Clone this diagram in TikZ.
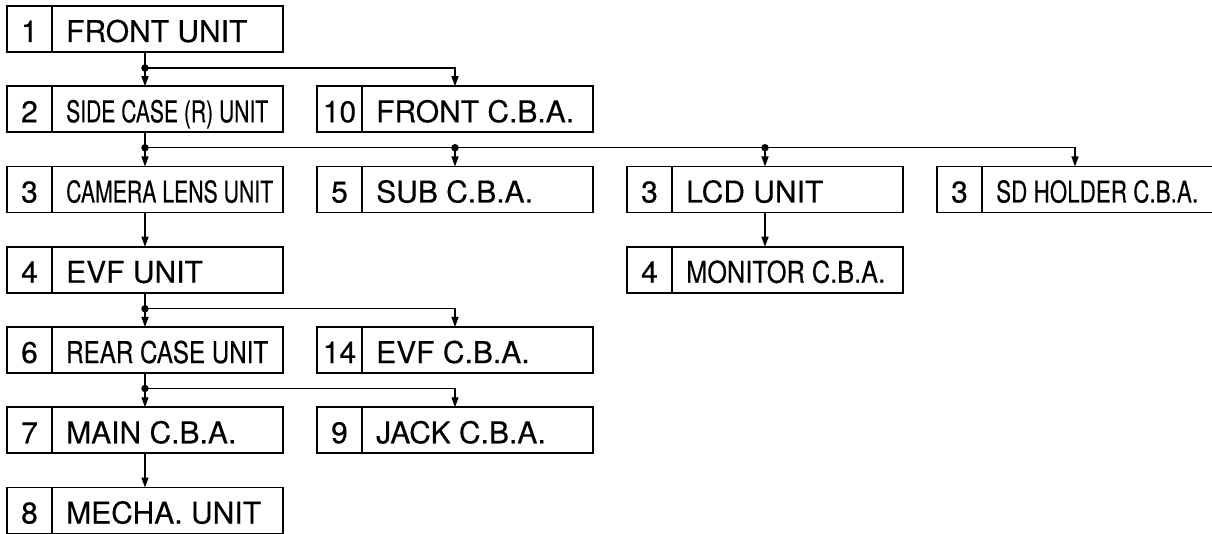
\documentclass[tikz,border=0pt]{standalone}
\usepackage{fontspec}
\setmainfont{TeX Gyre Heros}
\newfontfamily\diafont{TeX Gyre Heros}[FakeBold=0.3]
\usepackage{graphicx}
\usetikzlibrary{arrows.meta}
\tikzset{
 box/.style={draw, line width=1.7pt, minimum width=276pt, minimum height=46pt, inner sep=0pt, outer sep=0pt, anchor=north west},
 num/.style={inner sep=0pt, anchor=base, font=\diafont\fontsize{30}{31}\selectfont},
 lbl/.style={inner sep=0pt, anchor=base west, font=\diafont\fontsize{30}{31}\selectfont},
 conn/.style={line width=1.3pt, -{Triangle[length=10pt,width=7pt]}},
 jdot/.style={circle, fill, inner sep=0pt, minimum size=7.5pt},
}
\newcommand\mkunit[5]{%
 \node[box] (#1) at (#2,#3) {};
 \draw[line width=1.5pt] ([xshift=45pt]#1.north west) -- ([xshift=45pt]#1.south west);
 \node[num] (#1n) at ([xshift=22.5pt,yshift=10pt]#1.south west) {#4};
 \node[lbl] (#1t) at ([xshift=59pt,yshift=10pt]#1.south west) {#5};
}
\begin{document}
\begin{tikzpicture}[x=1pt,y=-1pt]
\useasboundingbox (0,0) rectangle (1212,534);
\mkunit{fu}{7}{6}{1}{FRONT UNIT}
\mkunit{sc}{7}{86.25}{2}{\resizebox{202pt}{\height}{SIDE CASE (R) UNIT}}
\mkunit{fc}{317}{86.25}{10}{FRONT C.B.A.}
\mkunit{cl}{7}{166.5}{3}{\resizebox{207pt}{\height}{CAMERA LENS UNIT}}
\mkunit{sb}{317}{166.5}{5}{SUB C.B.A.}
\mkunit{lcd}{627}{166.5}{3}{LCD UNIT}
\mkunit{sd}{937}{166.5}{3}{\resizebox{202pt}{\height}{SD HOLDER C.B.A.}}
\mkunit{evf}{7}{246.75}{4}{EVF UNIT}
\mkunit{mon}{627}{246.75}{4}{\resizebox{199pt}{\height}{MONITOR C.B.A.}}
\mkunit{rc}{7}{327}{6}{\resizebox{202pt}{\height}{REAR CASE UNIT}}
\mkunit{ec}{317}{327}{14}{EVF C.B.A.}
\mkunit{mn}{7}{407.25}{7}{MAIN C.B.A.}
\mkunit{jk}{317}{407.25}{9}{JACK C.B.A.}
\mkunit{me}{7}{487.5}{8}{MECHA. UNIT}
% junctions
\node[jdot] (j1) at ([yshift=-16pt]fu.south) {};
\node[jdot] (j2) at ([yshift=-15.5pt]sc.south) {};
\node[jdot] (j3) at (j2 -| sb.north) {};
\node[jdot] (j4) at (j2 -| lcd.north) {};
\node[jdot] (j5) at ([yshift=-16pt]evf.south) {};
\node[jdot] (j6) at ([yshift=-15.5pt]rc.south) {};
% connectors
\draw[conn] (fu.south) -- (sc.north);
\draw[conn] (j1.center) -| (fc.north);
\draw[conn] (sc.south) -- (cl.north);
\draw[conn] (j2.center) -| (sd.north);
\draw[conn] (j3.center) -- (sb.north);
\draw[conn] (j4.center) -- (lcd.north);
\draw[conn] (cl.south) -- (evf.north);
\draw[conn] (lcd.south) -- (mon.north);
\draw[conn] (evf.south) -- (rc.north);
\draw[conn] (j5.center) -| (ec.north);
\draw[conn] (rc.south) -- (mn.north);
\draw[conn] (j6.center) -| (jk.north);
\draw[conn] (mn.south) -- (me.north);
\end{tikzpicture}
\end{document}
